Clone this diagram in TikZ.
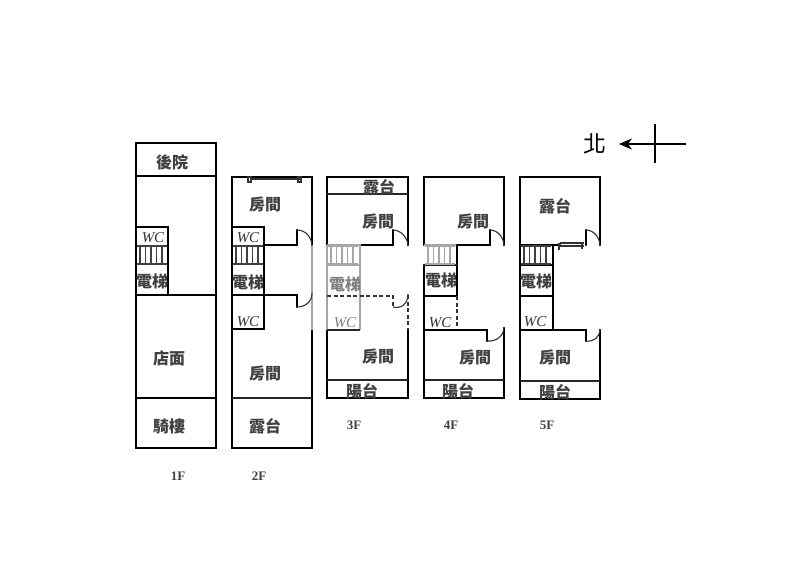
\documentclass[tikz,border=0pt]{standalone}
\usepackage{fontspec}
\setmainfont{Liberation Serif}
\newfontfamily\cjkfont{Noto Sans CJK TC}
\usetikzlibrary{arrows.meta,positioning}
\tikzset{
    wall/.style={
        line width=2.3pt,
        draw=black,
        line cap=round,
    },
    thinwall/.style={
        line width=1.4pt,
        draw=black!85,
    },
    faded/.style={
        line width=1.2pt,
        draw=black!35,
    },
    broken/.style={
        line width=2pt,
        draw=black!80,
        dash pattern=on 4pt off 2.5pt,
    },
    door/.style={
        line width=1.1pt,
        draw=black!80,
    },
    room/.style={
        font=\cjkfont\bfseries\fontsize{16}{16}\selectfont,
        inner sep=0pt,
        text=black!75,
    },
    wc/.style={
        font=\itshape\fontsize{15}{15}\selectfont,
        inner sep=0pt,
        text=black!80,
    },
    floorname/.style={
        font=\bfseries\fontsize{13}{13}\selectfont,
        inner sep=0pt,
        text=black!75,
    },
    rung/.style={
        line width=1.3pt,
        draw=black!75,
    },
}
\newcommand{\stairrun}[2]{
    \draw[#2] (#1,246) -- (#1+30,246) (#1,264) -- (#1+30,264);
    \foreach \xrung in {3,8.5,...,28} {
        \draw[#2] (#1+\xrung,247) -- (#1+\xrung,263);
    }
}
\begin{document}
\begin{tikzpicture}[x=1pt,y=-1pt,>={Stealth[length=13pt,width=11pt]}]
    \useasboundingbox[fill=white] (0,0) rectangle (800,585);

    \draw[wall] (136,143) rectangle (216,448);
    \draw[wall] (136,176) -- (216,176);
    \draw[wall] (136,295) -- (216,295);
    \draw[wall] (136,398) -- (216,398);
    \draw[wall] (136,227) -- (168,227) -- (168,295);
    \stairrun{137}{rung}
    \node[room] (yard) at (172,162) {後院};
    \node[wc] (wc-a) at (153,238) {WC};
    \node[room] (lift-a) at (152,281) {電梯};
    \node[room] (shop) at (169,358) {店面};
    \node[room] (arcade) at (169,426) {騎樓};
    \node[floorname] (floor-a) at (178,476) {1F};

    \draw[wall] (312,245) -- (312,177) -- (232,177) -- (232,448) -- (312,448) -- (312,330);
    \draw[faded] (312,245) -- (312,330);
    \draw[thinwall] (232,398) -- (312,398);
    \draw[wall] (232,227) -- (264,227) -- (264,329) -- (232,329);
    \draw[wall] (264,245) -- (297,245) -- (297,230);
    \draw[wall] (232,295) -- (297,295) -- (297,307);
    \draw[door] (297,230) .. controls (306,230) and (312,238) .. (312,246);
    \draw[door] (297,307) .. controls (305,307) and (312,302) .. (312,293);
    \draw[door] (250,179) -- (300,179);
    \draw[door] (248,177) rectangle (251,182);
    \draw[door] (298,177) rectangle (301,182);
    \stairrun{233}{rung}
    \node[room] (bed-b) at (265,205) {房間};
    \node[wc] (wc-b) at (248,238) {WC};
    \node[room] (lift-b) at (248,282) {電梯};
    \node[wc] (wc-bb) at (248,322) {WC};
    \node[room] (bed-bb) at (265,374) {房間};
    \node[room] (deck-b) at (265,426) {露台};
    \node[floorname] (floor-b) at (259,476) {2F};

    \draw[wall] (327,245) -- (327,177) -- (408,177) -- (408,245);
    \draw[wall] (327,330) -- (327,398) -- (408,398) -- (408,330);
    \draw[thinwall] (327,194) -- (408,194);
    \draw[thinwall] (327,380) -- (408,380);
    \draw[wall] (360,245) -- (393,245) -- (393,230);
    \draw[door] (393,230) .. controls (401,230) and (408,238) .. (408,246);
    \draw[faded] (327,245) -- (360,245) -- (360,330);
    \draw[faded] (327,245) -- (327,330);
    \draw[faded] (327,265) -- (360,265);
    \draw[broken] (327,296) -- (393,296) -- (393,307);
    \draw[door] (393,307) .. controls (401,309) and (408,304) .. (408,294);
    \draw[broken] (408,295) -- (408,330);
    \draw[thinwall] (327,330) -- (360,330);
    \stairrun{328}{faded}
    \node[room] (deck-c) at (379,187) {露台};
    \node[room] (bed-c) at (378,222) {房間};
    \node[room,text=black!50] (lift-c) at (345,284) {電梯};
    \node[wc,text=black!50] (wc-c) at (345,323) {WC};
    \node[room] (bed-cc) at (378,357) {房間};
    \node[room] (balcony-c) at (362,391) {陽台};
    \node[floorname] (floor-c) at (354,425) {3F};

    \draw[wall] (424,245) -- (424,177) -- (504,177) -- (504,245);
    \draw[wall] (504,328) -- (504,398) -- (424,398) -- (424,265);
    \draw[thinwall] (424,380) -- (504,380);
    \draw[wall] (457,245) -- (490,245) -- (490,230);
    \draw[door] (490,230) .. controls (498,230) and (504,238) .. (504,246);
    \draw[faded] (424,245) -- (457,245);
    \draw[wall] (457,245) -- (457,296) -- (424,296);
    \draw[thinwall] (424,265) -- (457,265);
    \draw[broken] (457,296) -- (457,330);
    \draw[wall] (424,330) -- (487,330) -- (487,341);
    \draw[door] (487,341) .. controls (496,342) and (504,336) .. (504,327);
    \stairrun{425}{faded}
    \node[room] (bed-d) at (473,222) {房間};
    \node[room] (lift-d) at (441,280) {電梯};
    \node[wc] (wc-d) at (440,323) {WC};
    \node[room] (bed-dd) at (475,358) {房間};
    \node[room] (balcony-d) at (458,391) {陽台};
    \node[floorname] (floor-d) at (451,425) {4F};

    \draw[wall] (520,399) -- (520,177) -- (600,177) -- (600,245);
    \draw[wall] (600,330) -- (600,399) -- (520,399);
    \draw[thinwall] (520,381) -- (600,381);
    \draw[wall] (520,245) -- (560,245);
    \draw[door] (560,243) -- (584,243) (560,246) -- (584,246);
    \draw[door] (559,243) -- (559,250) (582,243) -- (582,249);
    \draw[wall] (586,245) -- (586,230);
    \draw[door] (586,230) .. controls (594,230) and (600,238) .. (600,246);
    \draw[wall] (553,245) -- (553,330);
    \draw[wall] (520,265) -- (553,265);
    \draw[wall] (520,296) -- (553,296);
    \draw[wall] (520,330) -- (586,330) -- (586,341);
    \draw[door] (586,341) .. controls (594,342) and (600,337) .. (600,329);
    \stairrun{521}{rung}
    \node[room] (deck-e) at (555,206) {露台};
    \node[room] (lift-e) at (536,281) {電梯};
    \node[wc] (wc-e) at (535,322) {WC};
    \node[room] (bed-e) at (555,358) {房間};
    \node[room] (balcony-e) at (555,392) {陽台};
    \node[floorname] (floor-e) at (547,425) {5F};

    \coordinate (compass-e) at (686,144);
    \coordinate (compass-w) at (619,144);
    \coordinate (compass-n) at (655,124);
    \coordinate (compass-s) at (655,163);
    \node[room,font=\cjkfont\fontsize{23}{23}\selectfont,text=black] (north) at (595,144) {北};
    \draw[->,line width=1.2pt] (compass-e) -- (compass-w);
    \draw[line width=1.2pt] (compass-n) -- (compass-s);
\end{tikzpicture}
\end{document}
